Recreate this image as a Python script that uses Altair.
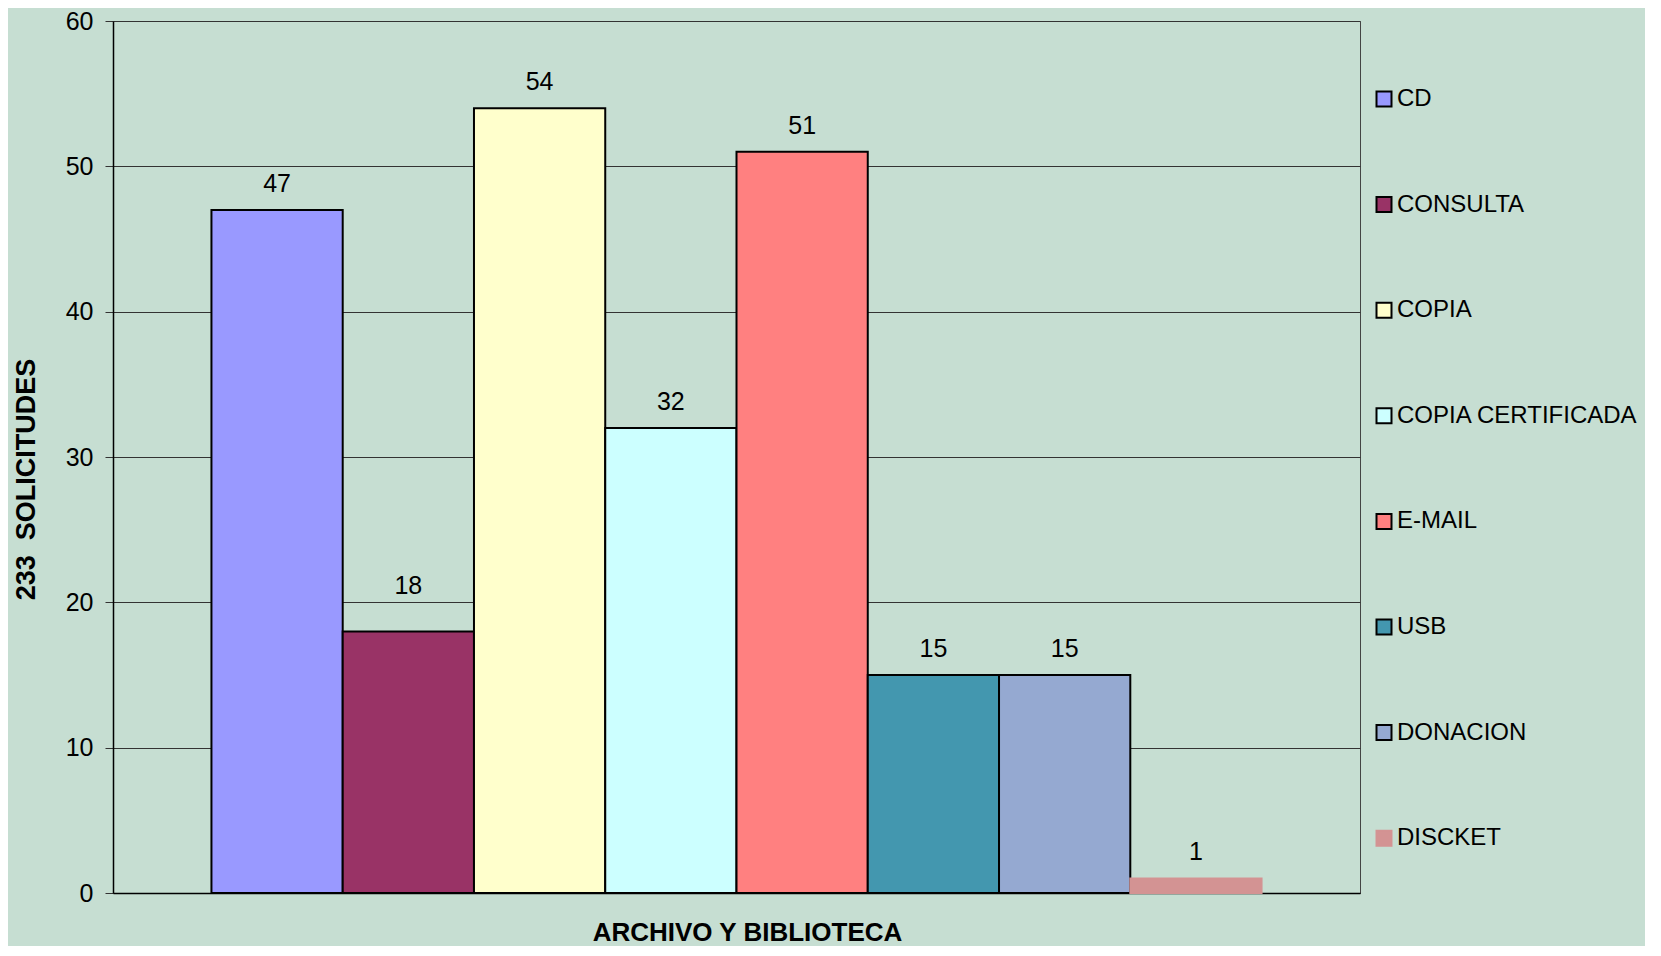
import altair as alt
import pandas as pd

categories = ["CD", "CONSULTA", "COPIA", "COPIA CERTIFICADA", "E-MAIL", "USB", "DONACION", "DISCKET"]
values = [47, 18, 54, 32, 51, 15, 15, 1]
colors = ["#9999FF", "#993366", "#FFFFCC", "#CCFFFF", "#FF8080", "#4397AF", "#95A9D1", "#D39393"]
strokes = ["#000000"] * 7 + ["#D39393"]
y_ticks = [0, 10, 20, 30, 40, 50, 60]
raised_label = ["CONSULTA"]

df = pd.DataFrame({"cat": categories, "val": values})

FONT = "Liberation Sans"

x_enc = alt.X(
    "cat:N",
    sort=categories,
    scale=alt.Scale(paddingInner=0, paddingOuter=0.75),
    axis=alt.Axis(
        title="ARCHIVO Y BIBLIOTECA",
        labels=False,
        ticks=False,
        domainColor="#000000",
        domainWidth=1.5,
        titleFont=FONT,
        titleFontSize=26,
        titleFontWeight="bold",
        titleColor="#000000",
        titleX=634,
        titleY=39,
        titleBaseline="middle",
        titleAlign="center",
    ),
)

y_enc = alt.Y(
    "val:Q",
    scale=alt.Scale(domain=[0, 60], nice=False),
    axis=alt.Axis(
        values=y_ticks,
        title="233\u00a0\u00a0SOLICITUDES",
        grid=True,
        gridColor="#333333",
        gridWidth=1,
        domainColor="#000000",
        domainWidth=1.5,
        tickColor="#333333",
        tickSize=8,
        labelPadding=12,
        labelFont=FONT,
        labelFontSize=25,
        labelColor="#000000",
        titleFont=FONT,
        titleFontSize=27,
        titleFontWeight="bold",
        titleColor="#000000",
        titleAngle=-90,
        titleX=-87,
        titleY=458,
        titleAlign="center",
        titleBaseline="middle",
    ),
)

legend_cfg = dict(
    title=None,
    orient="none",
    legendX=1259,
    legendY=66,
    padding=0,
    symbolType="square",
    symbolSize=225,
    symbolStrokeWidth=2,
    symbolOpacity=1,
    labelFont=FONT,
    labelFontSize=24,
    labelColor="#000000",
    labelOffset=1,
    rowPadding=81.6,
    labelLimit=400,
)

bars = alt.Chart(df).mark_bar(strokeWidth=2, opacity=1).encode(
    x=x_enc,
    y=y_enc,
    color=alt.Color(
        "cat:N",
        sort=categories,
        scale=alt.Scale(domain=categories, range=colors),
        legend=alt.Legend(**legend_cfg),
    ),
    stroke=alt.Stroke(
        "cat:N",
        sort=categories,
        scale=alt.Scale(domain=categories, range=strokes),
        legend=alt.Legend(**legend_cfg),
    ),
)

label_base = alt.Chart(df).encode(
    x=alt.X("cat:N", sort=categories),
    y=alt.Y("val:Q"),
    text=alt.Text("val:Q"),
)

labels = label_base.mark_text(
    font=FONT, fontSize=25, color="#000000", baseline="alphabetic", align="center", dy=-18
).transform_filter(
    ~alt.FieldOneOfPredicate(field="cat", oneOf=raised_label)
)

labels_raised = label_base.mark_text(
    font=FONT, fontSize=25, color="#000000", baseline="alphabetic", align="center", dy=-37
).transform_filter(
    alt.FieldOneOfPredicate(field="cat", oneOf=raised_label)
)

chart = (
    alt.layer(bars, labels, labels_raised)
    .properties(
        width=1247,
        height=872,
        padding={"left": 105, "top": 13, "right": 285, "bottom": 53},
        autosize=alt.AutoSizeParams(type="none"),
        background="#C6DED2",
    )
    .configure_view(stroke="#444444", strokeWidth=1)
)

chart.save("out.html", embed_options={"renderer": "svg", "actions": False})
